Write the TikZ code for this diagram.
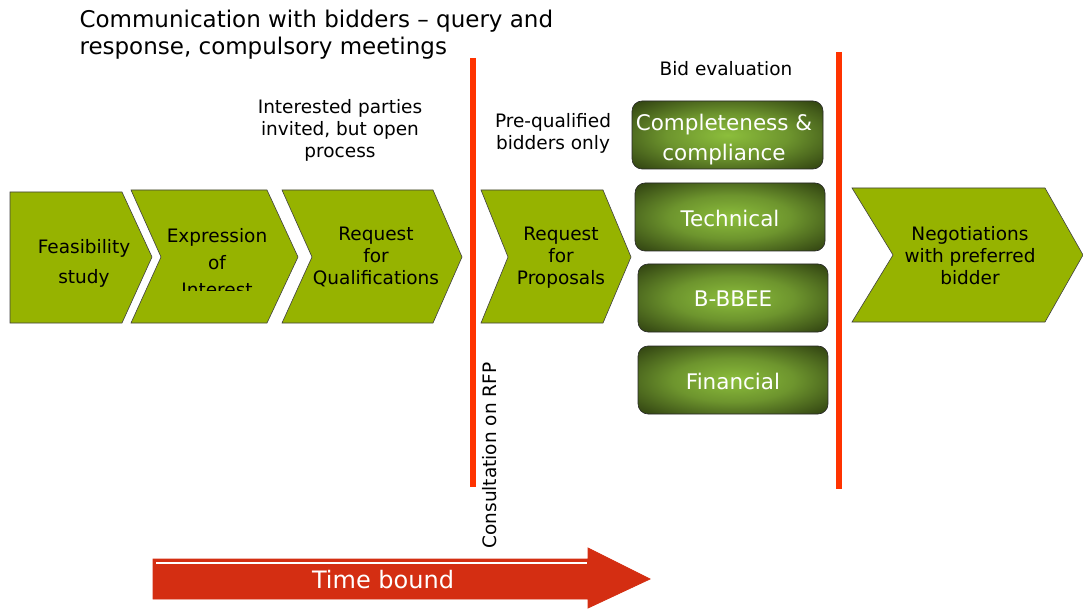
\documentclass[tikz,border=0pt]{standalone}
\usepackage{fontspec}
\setmainfont{DejaVu Sans}
\definecolor{stagegreen}{RGB}{150,179,0}
\definecolor{cutred}{RGB}{255,51,0}
\definecolor{evallight}{RGB}{140,190,60}
\definecolor{evaldark}{RGB}{38,52,12}
\definecolor{timered}{RGB}{212,46,18}
\definecolor{timedark}{RGB}{150,25,10}
\pgfdeclareradialshading{evalglow}{\pgfpoint{0bp}{0bp}}{%
    color(0bp)=(evallight); color(16bp)=(evallight!70!evaldark);
    color(38bp)=(evaldark); color(50bp)=(evaldark)}
\pgfdeclareverticalshading{timeband}{100bp}{%
    color(0bp)=(timedark); color(22bp)=(timered); color(78bp)=(timered);
    color(100bp)=(timedark)}

\begin{document}
\begin{tikzpicture}[
        x=1pt, y=-1pt,
        stage/.style={fill=stagegreen, draw=black!75, line width=0.6pt},
        stagetext/.style={align=center, font=\fontsize{18.5}{22}\selectfont},
        note/.style={align=center, font=\fontsize{18.5}{22}\selectfont},
        evalbox/.style={rounded corners=10pt, draw=black!85, line width=0.6pt,
            shading=evalglow},
        evaltext/.style={text=white, font=\fontsize{21.5}{30}\selectfont, align=center},
        cutline/.style={draw=cutred, line width=5.5pt},
    ]
    \useasboundingbox (0,0) rectangle (1083,609);

    % title
    \node[anchor=west, align=left, font=\fontsize{23}{27}\selectfont] (title) at (76,34.5)
        {Communication with bidders -- query and\\response, compulsory meetings};

    % process stages
    \draw[stage] (10,192) -- (122,192) -- (152,257) -- (122,323) -- (10,323) -- cycle;
    \draw[stage] (131,190) -- (267,190) -- (298,257) -- (267,323) -- (131,323) -- (161,257) -- cycle;
    \draw[stage] (282,190) -- (433,190) -- (462,257) -- (433,323) -- (282,323) -- (312,257) -- cycle;
    \draw[stage] (481,190) -- (603,190) -- (631,257) -- (603,323) -- (481,323) -- (508,257) -- cycle;
    \draw[stage] (852,188) -- (1045,188) -- (1083,255) -- (1045,322) -- (852,322) -- (893,255) -- cycle;

    \node[stagetext] (feas) at (84,263) {Feasibility\\[8pt]study};
    \begin{scope}
        \clip (131,190) rectangle (300,291);
        \node[stagetext, font=\fontsize{18.5}{27}\selectfont] (eoi) at (217,263) {Expression\\of\\Interest};
    \end{scope}
    \node[stagetext] (rfq) at (376,257) {Request\\for\\Qualifications};
    \node[stagetext] (rfp) at (561,257.5) {Request\\for\\Proposals};
    \node[stagetext] (nego) at (970,255.5) {Negotiations\\with preferred\\bidder};

    % notes
    \node[note] (open) at (340,130) {Interested parties\\invited, but open\\process};
    \node[note] (preq) at (553,133) {Pre-qualified\\bidders only};
    \node[note] (bideval) at (726,69) {Bid evaluation};

    % cut-off lines
    \draw[cutline] (473,58) -- (473,487);
    \draw[cutline] (839,52) -- (839,489);
    \node[note, rotate=90] (consult) at (490,455.5) {Consultation on RFP};

    % evaluation boxes
    \draw[evalbox] (632,101) rectangle (823,169);
    \draw[evalbox] (635,183) rectangle (825,251);
    \draw[evalbox] (638,264) rectangle (828,332);
    \draw[evalbox] (638,346) rectangle (828,414);
    \node[evaltext] (compl) at (724,140) {Completeness \&\\compliance};
    \node[evaltext] (tech) at (730,218) {Technical};
    \node[evaltext] (bbbee) at (733,299) {B-BBEE};
    \node[evaltext] (fin) at (733,381) {Financial};

    % time bound arrow
    \shade[shading=timeband, draw=timered, line width=0.8pt]
        (153,559) -- (588,559) -- (588,548) -- (650,579) -- (588,608) -- (588,599) -- (153,599) -- cycle;
    \draw[white, line width=1.2pt] (156,563) -- (587,563);
    \node[text=white, font=\fontsize{24}{28}\selectfont] (time) at (383,580) {Time bound};
\end{tikzpicture}
\end{document}
